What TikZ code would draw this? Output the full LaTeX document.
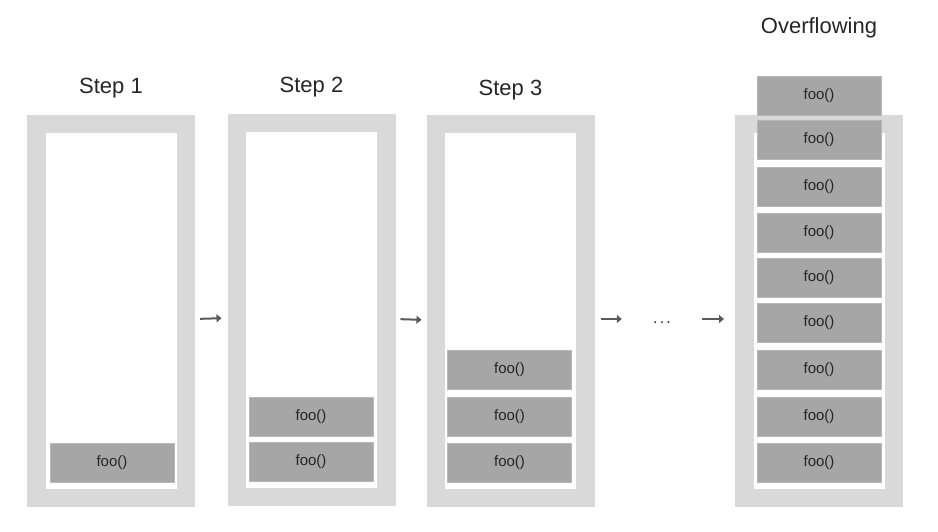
\documentclass[tikz,border=0pt]{standalone}
\usepackage{fontspec}
\setmainfont{Liberation Sans}
\usetikzlibrary{arrows.meta,positioning}
\definecolor{wallgray}{HTML}{D9D9D9}
\definecolor{callgray}{HTML}{A6A6A6}
\definecolor{ink}{HTML}{262626}
\definecolor{arrowgray}{HTML}{5A5A5A}
\tikzset{
    stackbox/.style={draw=wallgray,fill=white,line width=18.5pt,
      minimum width=149.5pt,minimum height=373.5pt,inner sep=0pt},
    callframe/.style={fill=callgray,draw=callgray!80!white,line width=0.6pt,
      minimum width=124pt,minimum height=39pt,inner sep=0pt,
      text=ink,font=\fontsize{15}{18}\selectfont},
    steplabel/.style={text=ink,font=\fontsize{22}{26}\selectfont},
    flowarrow/.style={-{Triangle[length=5pt,width=8pt]},draw=arrowgray,
      line width=2pt}
}

\begin{document}
\begin{tikzpicture}[x=1pt,y=-1pt]
  \useasboundingbox (0,0) rectangle (938,532);
  % the four stacks
  \node[stackbox] (box1) at (111,311) {};
  \node[stackbox] (box2) at (311.5,310) {};
  \node[stackbox] (box3) at (510.5,311) {};
  \node[stackbox] (box4) at (819,311) {};
  \node[steplabel,above=13pt of box1] (t1) {Step 1};
  \node[steplabel,above=13pt of box2] (t2) {Step 2};
  \node[steplabel,above=11pt of box3] (t3) {Step 3};
  % frames on the stacks
  \node[callframe] (a1) at (112,462.5) {foo()};
  \foreach \i/\y in {1/461.5,2/416.5}
    \node[callframe] (b\i) at (311,\y) {foo()};
  \foreach \i/\y in {1/462.5,2/416.5,3/369.5}
    \node[callframe] (c\i) at (509.5,\y) {foo()};
  \foreach \i/\y in {1/462.5,2/416.5,3/369.5,4/322.5,5/277.5,6/232.5,7/186.5,8/139.5,9/95.5}
    \node[callframe] (o\i) at (819,\y) {foo()};
  \node[steplabel,above=34pt of o9] (t4) {Overflowing};
  % steps between the stacks
  \node[inner sep=0pt,minimum width=80pt,text height=8pt,text depth=0pt,
    text=ink,font=\fontsize{16}{18}\selectfont]
    (dots) at (662,319) {.\hspace{2.2pt}.\hspace{2.2pt}.};
  \draw[flowarrow,shorten <=5pt,shorten >=6pt]
    ([yshift=-8pt]box1.east) -- ([yshift=-8pt]box2.west);
  \draw[flowarrow,shorten <=5pt,shorten >=5pt]
    ([yshift=-9pt]box2.east) -- ([yshift=-9pt]box3.west);
  \draw[flowarrow,shorten <=6pt]
    ([yshift=-8pt]box3.east) -- (dots.west);
  \draw[flowarrow,shorten >=11pt]
    (dots.east) -- (dots.east -| box4.west);
\end{tikzpicture}
\end{document}
